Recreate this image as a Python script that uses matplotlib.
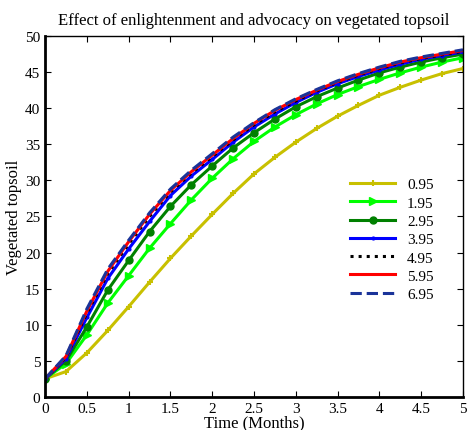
import numpy as np
import matplotlib
matplotlib.use('Agg')
import matplotlib.pyplot as plt

plt.rcParams['font.family'] = ['Liberation Serif', 'DejaVu Serif']

# time grid (months), values every 0.25
t = np.arange(0, 5.01, 0.25)
v095 = [2.5, 3.5, 6.1, 9.2, 12.5, 15.9, 19.2, 22.3, 25.3, 28.2, 30.9,
        33.2, 35.3, 37.2, 38.9, 40.4, 41.8, 42.9, 43.9, 44.8, 45.5]
v195 = [2.5, 4.6, 8.6, 13.0, 16.8, 20.6, 24.0, 27.3, 30.3, 33.0, 35.4,
        37.4, 39.1, 40.6, 41.9, 43.0, 44.0, 44.9, 45.7, 46.4, 47.0]
v295 = [2.5, 5.0, 9.7, 14.8, 18.9, 22.9, 26.4, 29.4, 32.0, 34.5, 36.6,
        38.5, 40.2, 41.6, 42.8, 43.9, 44.9, 45.7, 46.4, 47.0, 47.5]
v395 = [2.5, 5.3, 11.0, 16.4, 20.5, 24.3, 27.9, 30.6, 32.9, 35.3, 37.4,
        39.2, 40.8, 42.2, 43.4, 44.4, 45.3, 46.1, 46.8, 47.3, 47.8]
v495 = [2.5, 5.5, 11.6, 17.1, 21.2, 25.0, 28.4, 31.0, 33.3, 35.6, 37.7,
        39.5, 41.0, 42.4, 43.6, 44.6, 45.5, 46.3, 46.9, 47.4, 47.9]
v595 = [2.5, 5.6, 11.9, 17.4, 21.5, 25.3, 28.6, 31.2, 33.5, 35.8, 37.9,
        39.7, 41.2, 42.5, 43.7, 44.7, 45.6, 46.4, 47.0, 47.5, 48.0]
v695 = [2.5, 5.7, 12.2, 17.7, 21.7, 25.5, 28.8, 31.4, 33.7, 36.0, 38.0,
        39.8, 41.3, 42.6, 43.8, 44.8, 45.7, 46.5, 47.1, 47.6, 48.1]
labels = ['0.95', '1.95', '2.95', '3.95', '4.95', '5.95', '6.95']

fig = plt.figure(figsize=(4.7, 4.31), dpi=100)
ax = fig.add_axes([0.096, 0.077, 0.889, 0.837])

ax.plot(t, v095, color='#c8c000', lw=2.2, marker='+', ms=5, mew=1.5, label=labels[0])
ax.plot(t, v195, color='#00ff00', lw=2.2, marker='>', ms=6, label=labels[1])
ax.plot(t, v295, color='#008000', lw=2.2, marker='o', ms=5, label=labels[2])
ax.plot(t, v395, color='#0000ff', lw=2.2, marker='.', ms=4, label=labels[3])
ax.plot(t, v495, color='black', lw=2.2, ls=':', label=labels[4])
ax.plot(t, v595, color='#ff0000', lw=2.2, label=labels[5])
ax.plot(t, v695, color='#1a3399', lw=2.2, ls='--', label=labels[6])

ax.set_xlim(0, 5)
ax.set_ylim(0, 50)
ax.set_xticks(np.arange(0, 5.01, 0.5))
ax.set_xticklabels(['0', '0.5', '1', '1.5', '2', '2.5', '3', '3.5', '4', '4.5', '5'])
ax.set_yticks(np.arange(0, 51, 5))
ax.tick_params(direction='in', top=True, right=True, labelsize=11, length=4)
for s in ax.spines.values():
    s.set_linewidth(1)
ax.spines['left'].set_linewidth(2)
ax.spines['bottom'].set_linewidth(2)

ax.set_title('Effect of enlightenment and advocacy on vegetated topsoil', fontsize=12, pad=9)
ax.set_ylabel('Vegetated topsoil', fontsize=12, labelpad=2)
ax.set_xlabel('Time (Months)', fontsize=12, labelpad=0)

ax.legend(loc='upper left', bbox_to_anchor=(0.705, 0.637), frameon=False,
          fontsize=11, handlelength=2.9, labelspacing=0.3, borderpad=0.2)

fig.savefig('out.png', dpi=100)
